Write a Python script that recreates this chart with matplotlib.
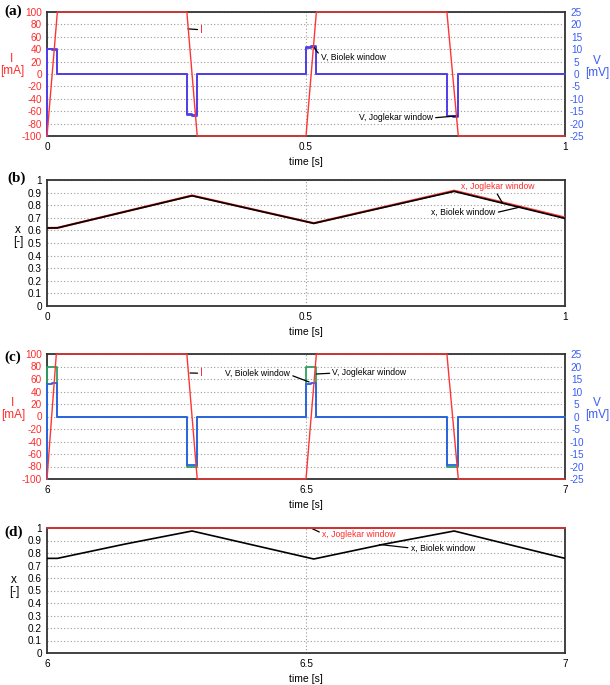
import matplotlib
matplotlib.use('Agg')
import matplotlib.pyplot as plt

plt.rcParams['font.family'] = ['Liberation Sans', 'DejaVu Sans']
plt.rcParams['axes.unicode_minus'] = False

# ---- data ----
# (a) current, clipped to +-100 mA
t_I_a = [0.0, 0.02, 0.27, 0.29, 0.50, 0.52, 0.772, 0.794, 1.0]
I_a = [-100, 100, 100, -100, -100, 100, 100, -100, -100]
# (a) voltage steps (steps-post)
t_V_a = [0.0, 0.0, 0.01, 0.02, 0.27, 0.28, 0.29, 0.50, 0.51, 0.52, 0.772, 0.783, 0.794, 1.0]
V_biolek_a = [-25, 10.2, 10.0, 0, -16.2, -16.6, 0, 10.8, 11.3, 0, -16.9, -17.1, 0, 0]
V_joglekar_a = [-25, 10.0, 9.8, 0, -16.4, -16.8, 0, 10.6, 11.0, 0, -17.1, -17.3, 0, 0]

# (b) state variable
t_x_b = [0.0, 0.02, 0.28, 0.515, 0.786, 1.0]
x_biolek_b = [0.619, 0.62, 0.875, 0.656, 0.910, 0.695]
x_joglekar_b = [0.619, 0.62, 0.877, 0.657, 0.915, 0.702]

# (c) current
t_I_c = [6.0, 6.018, 6.27, 6.29, 6.50, 6.52, 6.772, 6.794, 7.0]
I_c = [-100, 100, 100, -100, -100, 100, 100, -100, -100]
# (c) voltage steps
t_V_c = [6.0, 6.0, 6.01, 6.019, 6.27, 6.29, 6.50, 6.51, 6.52, 6.772, 6.794, 7.0]
V_biolek_c = [-25, 13.2, 13.6, 0, -19.3, 0, 13.2, 13.6, 0, -19.3, 0, 0]
V_joglekar_c = [-25, 20.0, 20.0, 0, -20.0, 0, 20.0, 20.0, 0, -20.3, 0, 0]

# (d) state variable
t_x_d = [6.0, 6.02, 6.15, 6.28, 6.515, 6.65, 6.786, 7.0]
x_biolek_d = [0.757, 0.757, 0.871, 0.976, 0.752, 0.87, 0.976, 0.757]
t_xj_d = [6.0, 7.0]
x_joglekar_d = [1.0, 1.0]

x_ticklabels = ['0', '0.1', '0.2', '0.3', '0.4', '0.5', '0.6', '0.7', '0.8', '0.9', '1']

RED = '#ff3535'
BLUE_A = '#5040e8'
BLUE_C = '#2a60e8'
GREEN = '#2ea060'
TXT_RED = '#ff2a2a'
TXT_BLUE = '#3a5cf5'
GRID = dict(color='#9a9a9a', linestyle=(0, (1, 2)), linewidth=0.8)
FS_TICK = 7.2
FS_ANN = 6.2

fig = plt.figure(figsize=(6.1, 6.85), dpi=100)

W = 610.0
H = 685.0
def box(top, bottom, left=47, right=565):
    return [left / W, 1 - bottom / H, (right - left) / W, (bottom - top) / H]

def style(ax, xlim, xticks, xticklabels, ylim, yticks, ytickcolor):
    ax.set_xlim(xlim)
    ax.set_ylim(ylim)
    ax.set_xticks(xticks)
    ax.set_xticklabels(xticklabels)
    ax.set_yticks(yticks)
    ax.tick_params(axis='both', length=0, labelsize=FS_TICK)
    ax.tick_params(axis='x', pad=4.5)
    ax.tick_params(axis='y', pad=3.6, labelcolor=ytickcolor)
    ax.grid(True, **GRID)
    for s in ax.spines.values():
        s.set_color('#333333')
        s.set_linewidth(1.3)
    ax.set_xlabel('time [s]', fontsize=7.5, labelpad=3.5)

def right_axis(ax, color):
    ax2 = ax.twinx()
    ax2.set_ylim(-25, 25)
    ticks = list(range(-25, 26, 5))
    ax2.set_yticks(ticks)
    ax2.set_yticklabels([str(v) for v in ticks], ha='center')
    ax2.tick_params(axis='y', length=0, labelsize=FS_TICK, labelcolor=color, pad=8.3)
    for s in ax2.spines.values():
        s.set_visible(False)
    return ax2

arrow = dict(arrowstyle='-', color='black', lw=0.9, shrinkA=0, shrinkB=0)

# ---------- (a) ----------
axa = fig.add_axes(box(12, 136))
style(axa, (0, 1), [0, 0.5, 1], ['0', '0.5', '1'], (-100, 100), range(-100, 101, 20), TXT_RED)
axa2 = right_axis(axa, TXT_BLUE)
axa2.plot(t_V_a, V_joglekar_a, drawstyle='steps-post', color=BLUE_A, lw=1.3, zorder=3, clip_on=False)
axa2.plot(t_V_a, V_biolek_a, drawstyle='steps-post', color=BLUE_A, lw=1.3, zorder=3, clip_on=False)
axa2.plot(t_I_a, [i / 4 for i in I_a], color=RED, lw=1.0, zorder=4, clip_on=False)
axa2.annotate('I', xy=(0.272, 18.2), xytext=(0.296, 17.8), color=TXT_RED, fontsize=7.5,
              va='center', ha='left', arrowprops=arrow)
axa2.annotate('V, Biolek window', xy=(0.515, 10.9), xytext=(0.529, 6.9), fontsize=FS_ANN,
              va='center', ha='left', arrowprops=dict(arrow, relpos=(0, 0.5)))
axa2.annotate('V, Joglekar window', xy=(0.792, -16.9), xytext=(0.745, -17.7), fontsize=FS_ANN,
              va='center', ha='right', arrowprops=dict(arrow, relpos=(1, 0.5)))
axa.text(-0.068, 0.573, 'I\n[mA]', transform=axa.transAxes, color=TXT_RED, fontsize=8.5,
         ha='center', va='center', linespacing=1.0)
axa.text(1.062, 0.556, 'V\n[mV]', transform=axa.transAxes, color=TXT_BLUE, fontsize=8.5,
         ha='center', va='center', linespacing=1.0)

# ---------- (b) ----------
axb = fig.add_axes(box(180, 306))
style(axb, (0, 1), [0, 0.5, 1], ['0', '0.5', '1'], (0, 1), [i / 10 for i in range(11)], 'black')
axb.set_yticklabels(x_ticklabels)
axb.plot(t_x_b, x_joglekar_b, color=RED, lw=1.6, zorder=3)
axb.plot(t_x_b, x_biolek_b, color='black', lw=1.2, zorder=3)
axb.annotate('x, Joglekar window', xy=(0.879, 0.82), xytext=(0.80, 0.947), color=TXT_RED,
             fontsize=FS_ANN, va='center', ha='left', arrowprops=dict(arrow, relpos=(0.45, 0.2)))
axb.annotate('x, Biolek window', xy=(0.914, 0.786), xytext=(0.866, 0.74), fontsize=FS_ANN,
             va='center', ha='right', arrowprops=dict(arrow, relpos=(1, 0.5)))
axb.text(-0.056, 0.556, 'x\n[-]', transform=axb.transAxes, fontsize=8.5,
         ha='center', va='center', linespacing=1.0)

# ---------- (c) ----------
axc = fig.add_axes(box(354, 479))
style(axc, (6, 7), [6, 6.5, 7], ['6', '6.5', '7'], (-100, 100), range(-100, 101, 20), TXT_RED)
axc2 = right_axis(axc, TXT_BLUE)
axc2.plot(t_V_c, V_joglekar_c, drawstyle='steps-post', color=GREEN, lw=1.3, zorder=3, clip_on=False)
axc2.plot(t_V_c, V_biolek_c, drawstyle='steps-post', color=BLUE_C, lw=1.3, zorder=3, clip_on=False)
axc2.plot(t_I_c, [i / 4 for i in I_c], color=RED, lw=1.0, zorder=4, clip_on=False)
axc2.annotate('I', xy=(6.276, 17.4), xytext=(6.296, 17.3), color=TXT_RED, fontsize=7.5,
              va='center', ha='left', arrowprops=arrow)
axc2.annotate('V, Biolek window', xy=(6.506, 13.8), xytext=(6.344, 17.4), fontsize=FS_ANN,
              va='center', ha='left', arrowprops=dict(arrow, relpos=(1, 0.3)))
axc2.annotate('V, Joglekar window', xy=(6.52, 17.0), xytext=(6.551, 17.7), fontsize=FS_ANN,
              va='center', ha='left', arrowprops=dict(arrow, relpos=(0, 0.4)))
axc.text(-0.066, 0.56, 'I\n[mA]', transform=axc.transAxes, color=TXT_RED, fontsize=8.5,
         ha='center', va='center', linespacing=1.0)
axc.text(1.062, 0.56, 'V\n[mV]', transform=axc.transAxes, color=TXT_BLUE, fontsize=8.5,
         ha='center', va='center', linespacing=1.0)

# ---------- (d) ----------
axd = fig.add_axes(box(528, 653))
style(axd, (6, 7), [6, 6.5, 7], ['6', '6.5', '7'], (0, 1), [i / 10 for i in range(11)], 'black')
axd.set_yticklabels(x_ticklabels)
axd.plot(t_xj_d, x_joglekar_d, color='#e03030', lw=1.3, zorder=4, clip_on=False)
axd.plot(t_x_d, x_biolek_d, color='black', lw=1.2, zorder=3)
axd.annotate('x, Joglekar window', xy=(6.512, 0.995), xytext=(6.531, 0.95), color=TXT_RED,
             fontsize=FS_ANN, va='center', ha='left', arrowprops=dict(arrow, relpos=(0, 0.6)))
axd.annotate('x, Biolek window', xy=(6.642, 0.868), xytext=(6.702, 0.84), fontsize=FS_ANN,
             va='center', ha='left', arrowprops=dict(arrow, relpos=(0, 0.5)))
axd.text(-0.064, 0.536, 'x\n[-]', transform=axd.transAxes, fontsize=8.5,
         ha='center', va='center', linespacing=1.0)

# panel letters
for lab, x, y in [('(a)', 4, 11), ('(b)', 7, 178), ('(c)', 4, 357), ('(d)', 4, 532)]:
    fig.text(x / W, 1 - y / H, lab, family='Liberation Serif', fontweight='bold',
             fontsize=11, ha='left', va='center')

fig.savefig('out.png', dpi=100)
